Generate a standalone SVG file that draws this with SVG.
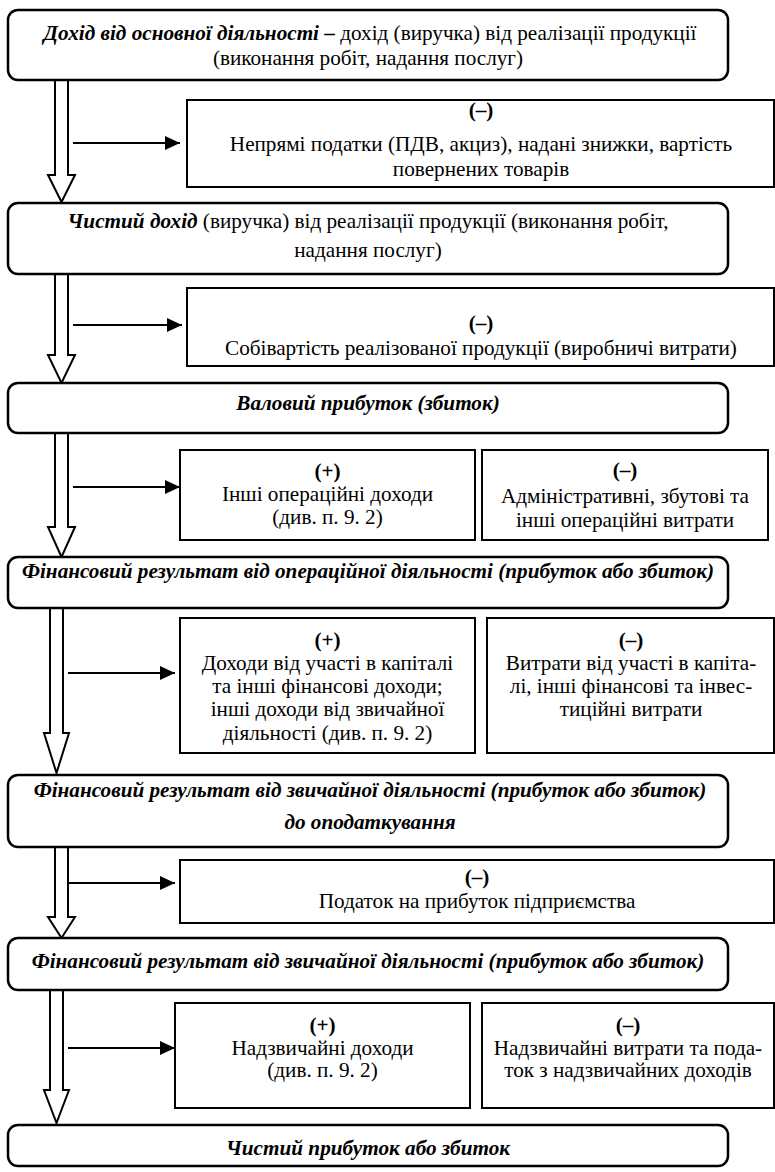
<svg xmlns="http://www.w3.org/2000/svg" width="775" height="1172" viewBox="0 0 775 1172">
  <defs>
    <style>
      .mb { fill: #fff; stroke: #000; stroke-width: 2.5; }
      .sb { fill: #fff; stroke: #000; stroke-width: 2; }
      .ha { fill: #fff; stroke: #000; stroke-width: 2; stroke-linejoin: miter; }
      .ln { stroke: #000; stroke-width: 2; fill: none; marker-end: url(#tri); }
      text { font-family: "Liberation Serif", "DejaVu Serif", serif; font-size: 21.2px; fill: #000; text-anchor: middle; }
      .bi { font-weight: bold; font-style: italic; }
      .b { font-weight: bold; }
    </style>
    <marker id="tri" markerUnits="userSpaceOnUse" markerWidth="15" markerHeight="14" refX="15" refY="7" orient="auto">
      <path d="M0,0 L15,7 L0,14 Z" fill="#000"/>
    </marker>
  </defs>

  <rect width="775" height="1172" fill="#fff"/>

  <!-- connectors: hollow flow arrows and side arrows -->
  <g id="connectors">
    <polygon class="ha" points="55,80 55,175 48,175 61.5,202 75,175 68,175 68,80"/>
    <polygon class="ha" points="55,274 55,355 48,355 61.5,383 75,355 68,355 68,274"/>
    <polygon class="ha" points="55,433 55,527 48,527 61.5,557 75,527 68,527 68,433"/>
    <polygon class="ha" points="50,608 50,733 44,733 56.5,773 69,733 63,733 63,608"/>
    <polygon class="ha" points="55,847 55,917 48,917 61.5,938 75,917 68,917 68,847"/>
    <polygon class="ha" points="50,990 50,1090 44,1090 56.5,1123 69,1090 63,1090 63,990"/>

    <line class="ln" x1="73" y1="143" x2="180" y2="143"/>
    <line class="ln" x1="73" y1="325" x2="182" y2="325"/>
    <line class="ln" x1="73" y1="487" x2="180" y2="487"/>
    <line class="ln" x1="68" y1="673" x2="175" y2="673"/>
    <line class="ln" x1="68" y1="883" x2="175" y2="883"/>
    <line class="ln" x1="68" y1="1048" x2="175" y2="1048"/>
  </g>

  <!-- main chain -->
  <g id="income">
    <rect class="mb" x="8" y="10" width="720" height="70" rx="10"/>
    <text x="370" y="40"><tspan class="bi">Дохід від основної діяльності</tspan><tspan class="b"> –</tspan> дохід (виручка) від реалізації продукції</text>
    <text x="368" y="65">(виконання робіт, надання послуг)</text>
  </g>

  <g id="net-income">
    <rect class="mb" x="8" y="203" width="720" height="71" rx="10"/>
    <text x="368" y="228"><tspan class="bi">Чистий дохід</tspan> (виручка) від реалізації продукції (виконання робіт,</text>
    <text x="368" y="257">надання послуг)</text>
  </g>

  <g id="gross-profit">
    <rect class="mb" x="8" y="383" width="720" height="50" rx="10"/>
    <text class="bi" x="368" y="410">Валовий прибуток (збиток)</text>
  </g>

  <g id="operating-result">
    <rect class="mb" x="8" y="557" width="720" height="51" rx="10"/>
    <text class="bi" x="368" y="578">Фінансовий результат від операційної діяльності (прибуток або збиток)</text>
  </g>

  <g id="ordinary-pretax">
    <rect class="mb" x="8" y="775" width="720" height="72" rx="10"/>
    <text class="bi" x="370" y="797">Фінансовий результат від звичайної діяльності (прибуток або збиток)</text>
    <text class="bi" x="370" y="829">до оподаткування</text>
  </g>

  <g id="ordinary-result">
    <rect class="mb" x="8" y="938" width="720" height="52" rx="10"/>
    <text class="bi" x="368" y="968">Фінансовий результат від звичайної діяльності (прибуток або збиток)</text>
  </g>

  <g id="net-profit">
    <rect class="mb" x="8" y="1125" width="720" height="41" rx="10"/>
    <text class="bi" x="368" y="1155">Чистий прибуток або збиток</text>
  </g>

  <!-- adjustments -->
  <g id="indirect-taxes">
    <rect class="sb" x="187" y="100" width="587" height="87"/>
    <text class="b" x="481" y="117">(–)</text>
    <text x="481" y="151">Непрямі податки (ПДВ, акциз), надані знижки, вартість</text>
    <text x="481" y="176">повернених товарів</text>
  </g>

  <g id="cost-of-sales">
    <rect class="sb" x="187" y="288" width="587" height="78"/>
    <text class="b" x="481" y="330">(–)</text>
    <text x="481" y="355">Собівартість реалізованої продукції (виробничі витрати)</text>
  </g>

  <g id="other-op-income">
    <rect class="sb" x="180" y="450" width="295" height="90"/>
    <text class="b" x="327.5" y="478">(+)</text>
    <text x="327.5" y="501">Інші операційні доходи</text>
    <text x="327.5" y="524">(див. п. 9. 2)</text>
  </g>

  <g id="op-expenses">
    <rect class="sb" x="482" y="450" width="286" height="90"/>
    <text class="b" x="625" y="477">(–)</text>
    <text x="625" y="503">Адміністративні, збутові та</text>
    <text x="625" y="527">інші операційні витрати</text>
  </g>

  <g id="fin-income">
    <rect class="sb" x="180" y="618" width="295" height="135"/>
    <text class="b" x="327.5" y="647">(+)</text>
    <text x="327.5" y="670">Доходи від участі в капіталі</text>
    <text x="327.5" y="693">та інші фінансові доходи;</text>
    <text x="327.5" y="716">інші доходи від звичайної</text>
    <text x="327.5" y="740">діяльності (див. п. 9. 2)</text>
  </g>

  <g id="fin-expenses">
    <rect class="sb" x="487" y="618" width="287" height="135"/>
    <text class="b" x="631" y="647">(–)</text>
    <text x="631" y="670">Витрати від участі в капіта-</text>
    <text x="631" y="693">лі, інші фінансові та інвес-</text>
    <text x="631" y="716">тиційні витрати</text>
  </g>

  <g id="income-tax">
    <rect class="sb" x="180" y="860" width="594" height="63"/>
    <text class="b" x="477" y="884">(–)</text>
    <text x="477" y="908">Податок на прибуток підприємства</text>
  </g>

  <g id="extra-income">
    <rect class="sb" x="175" y="1003" width="295" height="105"/>
    <text class="b" x="322.5" y="1032">(+)</text>
    <text x="322.5" y="1055">Надзвичайні доходи</text>
    <text x="322.5" y="1077">(див. п. 9. 2)</text>
  </g>

  <g id="extra-expenses">
    <rect class="sb" x="482" y="1003" width="292" height="105"/>
    <text class="b" x="628" y="1032">(–)</text>
    <text x="628" y="1055">Надзвичайні витрати та пода-</text>
    <text x="628" y="1077">ток з надзвичайних доходів</text>
  </g>
</svg>
